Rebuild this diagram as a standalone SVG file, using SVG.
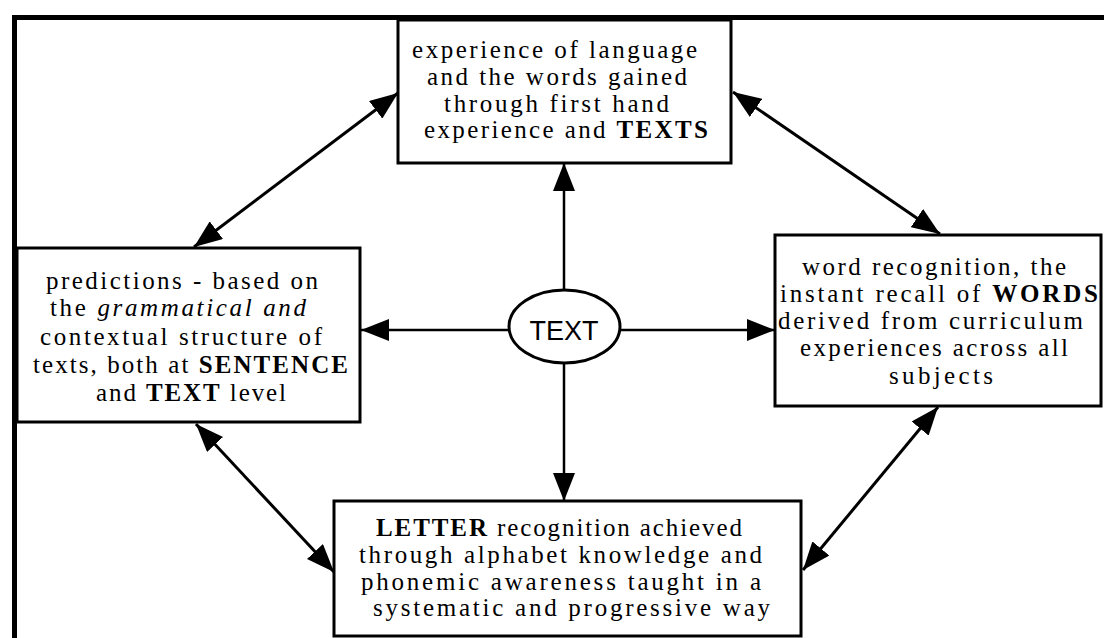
<svg xmlns="http://www.w3.org/2000/svg" width="1104" height="638" viewBox="0 0 1104 638">
  <defs>
    <marker id="ah" viewBox="0 0 28 22" refX="28" refY="11" markerWidth="28" markerHeight="22" markerUnits="userSpaceOnUse" orient="auto-start-reverse">
      <path d="M0,0 L28,11 L0,22 Z" fill="#000"/>
    </marker>
  </defs>
  <style>
    .box { fill: #fff; stroke: #000; stroke-width: 3; }
    .t { font-family: "Liberation Serif", "Times New Roman", serif; font-size: 25px; fill: #000; }
    .b { font-weight: bold; }
    .i { font-style: italic; }
    .c { stroke: #000; stroke-width: 2.5; fill: none; }
    .d { stroke: #000; stroke-width: 3; fill: none; }
  </style>

  <rect width="1104" height="638" fill="#fff"/>

  <!-- outer frame (top and left sides only) -->
  <path d="M14.5,638 L14.5,17.5 L1104,17.5" fill="none" stroke="#000" stroke-width="5"/>

  <g id="connectors">
    <path class="c" d="M564,290 L564,163" marker-end="url(#ah)"/>
    <path class="c" d="M564,363 L564,501" marker-end="url(#ah)"/>
    <path class="c" d="M509,330 L361,330" marker-end="url(#ah)"/>
    <path class="c" d="M620,330 L775,330" marker-end="url(#ah)"/>
    <path class="d" d="M398,93 L194,247" marker-start="url(#ah)" marker-end="url(#ah)"/>
    <path class="d" d="M733,92 L940,234" marker-start="url(#ah)" marker-end="url(#ah)"/>
    <path class="d" d="M196,424 L334,572" marker-start="url(#ah)" marker-end="url(#ah)"/>
    <path class="d" d="M938,407 L803,570" marker-start="url(#ah)" marker-end="url(#ah)"/>
  </g>

  <g id="experience">
    <rect class="box" x="398" y="20" width="333" height="143"/>
    <text class="t" x="412" y="58" textLength="285" lengthAdjust="spacing">experience of language</text>
    <text class="t" x="427" y="85" textLength="260" lengthAdjust="spacing">and the words gained</text>
    <text class="t" x="444" y="112" textLength="225" lengthAdjust="spacing">through first hand</text>
    <text class="t" x="424" y="138" textLength="284" lengthAdjust="spacing">experience and <tspan class="b">TEXTS</tspan></text>
  </g>

  <g id="predictions">
    <rect class="box" x="17" y="248" width="343" height="174"/>
    <text class="t" x="46" y="289" textLength="272" lengthAdjust="spacing">predictions - based on</text>
    <text class="t" x="50" y="316" textLength="256" lengthAdjust="spacing">the <tspan class="i">grammatical and</tspan></text>
    <text class="t" x="40" y="345" textLength="282" lengthAdjust="spacing">contextual structure of</text>
    <text class="t" x="33" y="373" textLength="315" lengthAdjust="spacing">texts, both at <tspan class="b">SENTENCE</tspan></text>
    <text class="t" x="96" y="401" textLength="190" lengthAdjust="spacing">and <tspan class="b">TEXT</tspan> level</text>
  </g>

  <g id="words">
    <rect class="box" x="775" y="235" width="326" height="171"/>
    <text class="t" x="802" y="275" textLength="264" lengthAdjust="spacing">word recognition, the</text>
    <text class="t" x="780" y="302" textLength="318" lengthAdjust="spacing">instant recall of <tspan class="b">WORDS</tspan></text>
    <text class="t" x="778" y="329" textLength="305" lengthAdjust="spacing">derived from curriculum</text>
    <text class="t" x="800" y="356" textLength="268" lengthAdjust="spacing">experiences across all</text>
    <text class="t" x="889" y="384" textLength="104" lengthAdjust="spacing">subjects</text>
  </g>

  <g id="letter">
    <rect class="box" x="334" y="501" width="467" height="135"/>
    <text class="t" x="376" y="536" textLength="366" lengthAdjust="spacing"><tspan class="b">LETTER</tspan> recognition achieved</text>
    <text class="t" x="359" y="563" textLength="403" lengthAdjust="spacing">through alphabet knowledge and</text>
    <text class="t" x="361" y="590" textLength="400" lengthAdjust="spacing">phonemic awareness taught in a</text>
    <text class="t" x="373" y="616" textLength="397" lengthAdjust="spacing">systematic and progressive way</text>
  </g>

  <g id="text-hub">
    <ellipse cx="564.5" cy="326.5" rx="55.5" ry="36.5" fill="#fff" stroke="#000" stroke-width="3"/>
    <text x="564" y="340" text-anchor="middle" font-family="Liberation Sans, Arial, sans-serif" font-size="27" fill="#000">TEXT</text>
  </g>
</svg>
